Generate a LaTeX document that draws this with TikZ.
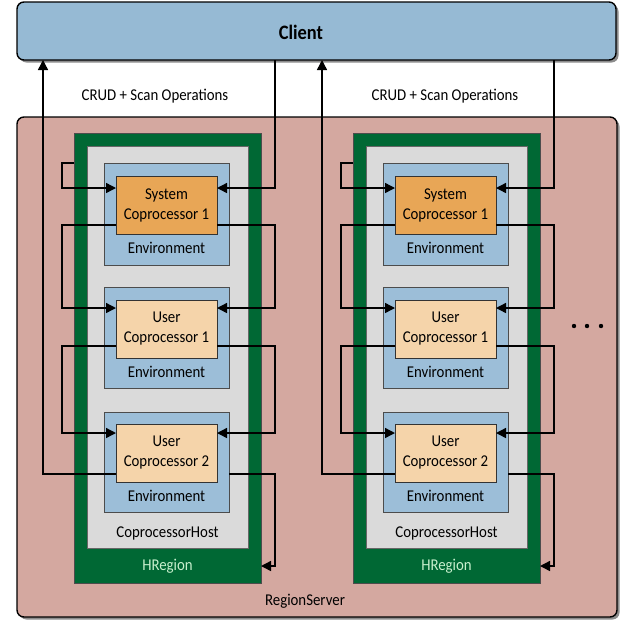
\documentclass[tikz,border=0pt]{standalone}
\usepackage{fontspec}
\setmainfont{Carlito}[FakeStretch=0.9]
\usetikzlibrary{fit,shadows,arrows.meta}
\definecolor{clientblue}{RGB}{150,186,212}
\definecolor{rspink}{RGB}{212,168,160}
\definecolor{hgreen}{RGB}{0,104,52}
\definecolor{hostgray}{RGB}{218,218,218}
\definecolor{envblue}{RGB}{156,190,216}
\definecolor{sysorange}{RGB}{232,166,86}
\definecolor{userpeach}{RGB}{245,212,170}
\definecolor{htext}{RGB}{200,240,205}
\tikzset{
  boxbase/.style={inner sep=0pt, outer sep=0pt},
  clientbox/.style={boxbase, draw=black, line width=1.4pt, fill=clientblue, rounded corners=7pt,
     drop shadow={shadow xshift=2.5pt, shadow yshift=-2.5pt, opacity=0.45, fill=black}},
  rsbox/.style={boxbase, draw=black, line width=1.4pt, fill=rspink, rounded corners=7pt,
     drop shadow={shadow xshift=2.5pt, shadow yshift=-2.5pt, opacity=0.45, fill=black}},
  hrbox/.style={boxbase, draw=black!70, line width=0.6pt, fill=hgreen},
  hostbox/.style={boxbase, draw=black!60, line width=0.6pt, fill=hostgray},
  envbox/.style={boxbase, draw=black!70, line width=0.8pt, fill=envblue},
  sysbox/.style={boxbase, draw=black!80, line width=0.9pt, fill=sysorange},
  userbox/.style={boxbase, draw=black!80, line width=0.9pt, fill=userpeach},
  lbl/.style={font=\fontsize{16.5}{18}\selectfont, inner sep=0pt, text=black},
  cplbl/.style={font=\fontsize{16.5}{20}\selectfont, align=center, inner sep=0pt},
  arr/.style={draw=black, line width=1.4pt, -{Triangle[length=10pt,width=10pt]}},
  ln/.style={draw=black, line width=1.4pt}
}
\begin{document}
\begin{tikzpicture}[x=1pt,y=-1pt]
\useasboundingbox (0,0) rectangle (640,630);
\fill[white] (0,0) rectangle (640,630);

% Client
\node[clientbox, fit={(17,2)(616,60)}] (client) {};
\node[font=\bfseries\fontsize{20.5}{22}\selectfont, inner sep=0pt] (clientlbl) at (301,32) {Client};

% RegionServer
\node[rsbox, fit={(17,117)(617,617)}] (rs) {};
\node[lbl] (rslbl) at (305,601) {RegionServer};

% labels CRUD
\node[lbl] (crud1) at (155,96) {CRUD + Scan Operations};
\node[lbl] (crud2) at (445,96) {CRUD + Scan Operations};

% dots
\foreach \i/\xx in {1/574,2/587,3/601} {
  \fill (\xx,326) circle (2.2pt) coordinate (dot\i);
}

\foreach \r/\dx in {1/0,2/279} {
  \begin{scope}[xshift=\dx pt]
    \node[hrbox, fit={(74,133)(261,583)}] (hr\r) {};
    \node[hostbox, fit={(87,146)(248,548)}] (host\r) {};
    \node[envbox, fit={(104,163)(229,265)}] (envA\r) {};
    \node[envbox, fit={(104,287)(229,388)}] (envB\r) {};
    \node[envbox, fit={(104,412)(229,512)}] (envC\r) {};
    \node[sysbox, fit={(116,176)(217,234)}] (cpA\r) {};
    \node[userbox, fit={(116,300)(217,358)}] (cpB\r) {};
    \node[userbox, fit={(116,424)(217,482)}] (cpC\r) {};
    \node[cplbl] (cpAl\r) at (cpA\r) {System\\Coprocessor 1};
    \node[cplbl] (cpBl\r) at (cpB\r) {User\\Coprocessor 1};
    \node[cplbl] (cpCl\r) at (cpC\r) {User\\Coprocessor 2};
    \node[lbl] (envAl\r) at (166.5,248) {Environment};
    \node[lbl] (envBl\r) at (166.5,372) {Environment};
    \node[lbl] (envCl\r) at (166.5,496) {Environment};
    \node[lbl] (hostl\r) at (167.5,533) {CoprocessorHost};
    \node[lbl, text=htext] (hrl\r) at (167.5,566) {HRegion};
    \coordinate (up\r) at (43,0);
    \coordinate (down\r) at (275,0);
  \end{scope}
  % connectors
  \draw[arr] ([yshift=-30pt]hr\r.north west) -- ++(-12,0) |- ([yshift=-12pt]cpA\r.north west);
  \draw[arr] (down\r |- client.south) |- ([yshift=-12pt]cpA\r.north east);
  \draw[arr] ([yshift=9pt]cpA\r.south west) -- ++(-54,0) |- ([yshift=-8pt]cpB\r.north west);
  \draw[arr] ([yshift=9pt]cpA\r.south east) -- ++(58,0) |- ([yshift=-8pt]cpB\r.north east);
  \draw[arr] ([yshift=12pt]cpB\r.south west) -- ++(-54,0) |- ([yshift=-9pt]cpC\r.north west);
  \draw[arr] ([yshift=12pt]cpB\r.south east) -- ++(58,0) |- ([yshift=-9pt]cpC\r.north east);
  \draw[arr] ([yshift=8pt]cpC\r.south west) -| (up\r |- client.south);
  \draw[arr] ([yshift=38pt]envC\r.south east) -- ++(46,0) |- ([yshift=17pt]hr\r.south east);
}
\end{tikzpicture}
\end{document}
